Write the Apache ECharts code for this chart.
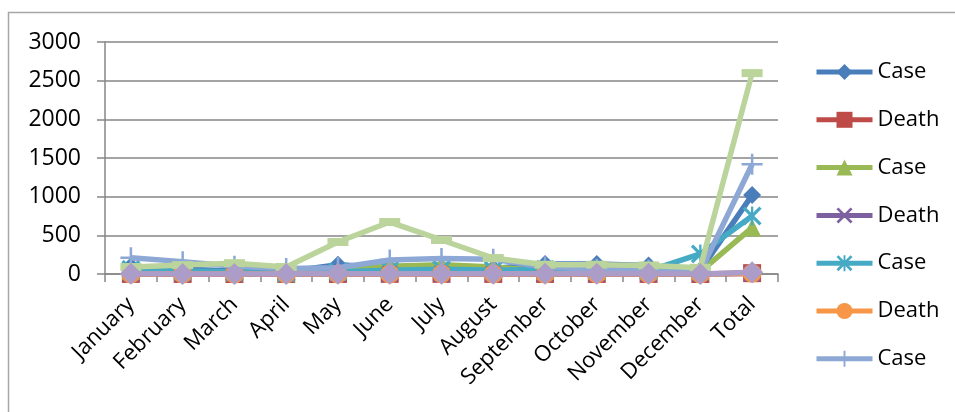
<!DOCTYPE html>
<html>
<head>
<meta charset="utf-8">
<script src="https://cdn.jsdelivr.net/npm/echarts@6/dist/echarts.min.js"></script>
<style>html,body{margin:0;padding:0;background:#fff}#c{width:955px;height:412px}</style>
</head>
<body>
<div id="c"></div>
<script>
const categories = ['January','February','March','April','May','June','July','August','September','October','November','December','Total'];
const case1  = [100, 60, 40, 30, 120, 80, 80, 70, 130, 130, 110, 50, 1020];
const death2 = [1, 1, 0, 0, 1, 2, 2, 1, 1, 1, 1, 0, 11];
const case3  = [40, 30, 20, 10, 40, 100, 120, 90, 40, 40, 40, 30, 600];
const death4 = [0, 0, 1, 0, 0, 1, 1, 1, 0, 1, 0, 0, 5];
const case5  = [60, 40, 30, 20, 30, 50, 60, 50, 60, 50, 40, 260, 750];
const death6 = [1, 0, 0, 1, 1, 1, 2, 1, 1, 0, 1, 1, 10];
const case7  = [210, 160, 100, 70, 80, 180, 200, 190, 90, 60, 50, 30, 1420];
const death8 = [90, 115, 140, 90, 414, 672, 440, 207, 120, 120, 110, 80, 2598];
const case9  = [2, 1, 1, 1, 2, 3, 3, 2, 2, 2, 2, 1, 22];
const yTicks = {min: 0, max: 3000, interval: 500};

const Z = '\u200b';
const X_PATH = 'path://M0,1.2L1.2,0L10,8.8L8.8,10Z M8.8,0L10,1.2L1.2,10L0,8.8Z';
const STAR_PATH = 'path://M0,1.2L1.2,0L10,8.8L8.8,10Z M8.8,0L10,1.2L1.2,10L0,8.8Z M4.4,0H5.6V10H4.4Z';
const PLUS_PATH = 'path://M4.4,0H5.6V10H4.4Z M0,4.4H10V5.6H0Z';

const defs = [
  {name:'Case', data:case1, color:'#4A7EBB', symbol:'diamond', size:18},
  {name:'Death', data:death2, color:'#BE4B48', symbol:'rect', size:18},
  {name:'Case'+Z, data:case3, color:'#98B954', symbol:'triangle', size:18},
  {name:'Death'+Z, data:death4, color:'#7D60A0', symbol:X_PATH, size:17},
  {name:'Case'+Z+Z, data:case5, color:'#46AAC5', symbol:STAR_PATH, size:19},
  {name:'Death'+Z+Z, data:death6, color:'#F79646', symbol:'circle', size:19},
  {name:'Case'+Z+Z+Z, data:case7, color:'#8EA8D6', symbol:PLUS_PATH, size:21},
  {name:'Death'+Z+Z+Z, data:death8, color:'#BBD49B', symbol:'rect', size:[21,8]},
  {name:'Case'+Z+Z+Z+Z, data:case9, color:'#AC9CC8', symbol:'diamond', size:22}
];

const chart = echarts.init(document.getElementById('c'), null, {renderer:'canvas'});
const FONT = 'Open Sans';
chart.setOption({
  animation: false,
  backgroundColor: '#fff',
  textStyle: {fontFamily: FONT},
  graphic: [{
    type: 'rect', shape: {x: 8.5, y: 12.5, width: 1000, height: 500},
    style: {fill: 'none', stroke: '#A6A6A6', lineWidth: 1.5}, silent: true
  }],
  grid: {left: 105, right: 177, top: 42, bottom: 138, containLabel: false},
  legend: {
    orient: 'vertical', left: 809, top: 55,
    data: defs.slice(0, 7).map(d => d.name),
    itemWidth: 56, itemHeight: 20, itemGap: 23.8,
    lineStyle: {width: 5},
    textStyle: {fontFamily: FONT, fontSize: 22, color: '#000', lineHeight: 24},
    formatter: n => n.replace(/\u200b/g, ''),
    selectedMode: false
  },
  xAxis: {
    type: 'category', data: categories, boundaryGap: true,
    axisLine: {lineStyle: {color: '#868686', width: 1.5}},
    axisTick: {show: true, length: 8, lineStyle: {color: '#868686', width: 1.5}},
    axisLabel: {rotate: 45, interval: 0, fontFamily: FONT, fontSize: 22, color: '#000', margin: 27}
  },
  yAxis: {
    type: 'value', min: yTicks.min, max: yTicks.max, interval: yTicks.interval,
    axisLine: {show: true, lineStyle: {color: '#868686', width: 1.5}},
    axisTick: {show: true, length: 8, lineStyle: {color: '#868686', width: 1.5}},
    splitLine: {lineStyle: {color: '#868686', width: 1.5}},
    axisLabel: {fontFamily: FONT, fontSize: 23, color: '#000', margin: 24, formatter: v => String(v)}
  },
  series: defs.map((d, i) => ({
    type: 'line', name: d.name, data: d.data, z: 2 + i,
    symbol: d.symbol, symbolSize: d.size, showAllSymbol: true,
    lineStyle: {color: d.color, width: 5.5},
    itemStyle: {color: d.color},
    emphasis: {disabled: true}
  }))
});
</script>
</body>
</html>
